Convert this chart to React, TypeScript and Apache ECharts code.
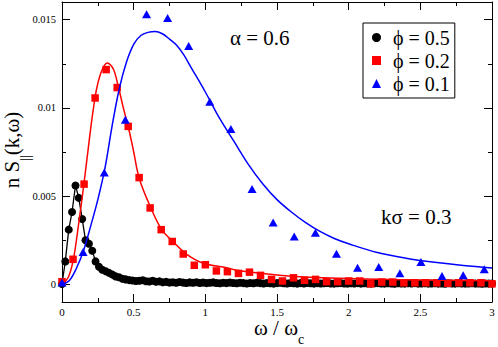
import React, { useEffect, useRef } from "react";
import * as echarts from "echarts";

const FONT = "Liberation Serif, DejaVu Serif, serif";

const yMajorTicks = [0, 0.005, 0.01, 0.015];
const yMinorTicks = [0.0025, 0.0075, 0.0125];
const seriesNames = ["ϕ = 0.5", "ϕ = 0.2", "ϕ = 0.1"];

const blackX = [
  0, 0.023, 0.047, 0.07, 0.094, 0.117, 0.141, 0.164, 0.188, 0.211,
  0.234, 0.258, 0.281, 0.305, 0.328, 0.352, 0.375, 0.398, 0.422, 0.445,
  0.469, 0.492, 0.516, 0.539, 0.563, 0.586, 0.609, 0.633, 0.656, 0.68,
  0.703, 0.727, 0.75, 0.773, 0.797, 0.82, 0.844, 0.867, 0.891, 0.914,
  0.938, 0.961, 0.984, 1.008, 1.031, 1.055, 1.078, 1.102, 1.125, 1.148,
  1.172, 1.195, 1.219, 1.242, 1.266, 1.289, 1.313, 1.336, 1.359, 1.383,
  1.406, 1.43, 1.453, 1.477, 1.5, 1.523, 1.547, 1.57, 1.594, 1.617,
  1.641, 1.664, 1.688, 1.711, 1.734, 1.758, 1.781, 1.805, 1.828, 1.852,
  1.875, 1.898, 1.922, 1.945, 1.969, 1.992, 2.016, 2.039, 2.063, 2.086,
  2.109, 2.133, 2.156, 2.18, 2.203, 2.227, 2.25, 2.273, 2.297, 2.32,
  2.344, 2.367, 2.391, 2.414, 2.438, 2.461, 2.484, 2.508, 2.531, 2.555,
  2.578, 2.602, 2.625, 2.648, 2.672, 2.695, 2.719, 2.742, 2.766, 2.789,
  2.813, 2.836, 2.859, 2.883, 2.906, 2.93, 2.953, 2.977, 3.0,
];
const blackY = [
  0.00002, 0.0013, 0.0031, 0.0041, 0.0056, 0.0049, 0.0037, 0.0025, 0.0023, 0.0019,
  0.0013, 0.001, 0.00083, 0.00074, 0.00065, 0.00055, 0.00045, 0.0004, 0.00032, 0.00028,
  0.00024, 0.00022, 0.00019, 0.0002, 0.00023, 0.00018, 0.00016, 0.0002, 0.00015, 0.00017,
  0.00012, 0.00014, 0.0001, 0.00012, 0.00009, 0.00013, 0.0001, 0.00008, 0.00011, 0.00009,
  0.00012, 0.00008, 0.0001, 0.00007, 0.00009, 0.00011, 0.00008, 0.00006, 0.00009, 0.00007,
  0.0001, 0.00008, 0.00006, 0.00009, 0.00007, 0.00005, 0.00008, 0.00006, 0.00009, 0.00007,
  0.00005, 0.00008, 0.00006, 0.00004, 0.00007, 0.00009, 0.00006, 0.00005, 0.00008, 0.00006,
  0.00004, 0.00007, 0.00005, 0.00008, 0.00006, 0.00004, 0.00007, 0.00005, 0.00006, 0.00008,
  0.00005, 0.00004, 0.00006, 0.00007, 0.00005, 0.00004, 0.00006, 0.00005, 0.00007, 0.00004,
  0.00006, 0.00005, 0.00004, 0.00006, 0.00007, 0.00005, 0.00004, 0.00006, 0.00005, 0.00003,
  0.00006, 0.00005, 0.00004, 0.00006, 0.00005, 0.00007, 0.00004, 0.00005, 0.00006, 0.00004,
  0.00005, 0.00006, 0.00004, 0.00005, 0.00003, 0.00006, 0.00005, 0.00004, 0.00006, 0.00005,
  0.00004, 0.00005, 0.00006, 0.00004, 0.00005, 0.00003, 0.00005, 0.00004, 0.00005,
];

const redX = [
  0, 0.077, 0.154, 0.231, 0.308, 0.385, 0.462, 0.538, 0.615, 0.692,
  0.769, 0.846, 0.923, 1.0, 1.077, 1.154, 1.231, 1.308, 1.385, 1.462,
  1.538, 1.615, 1.692, 1.769, 1.846, 1.923, 2.0, 2.077, 2.154, 2.231,
  2.308, 2.385, 2.462, 2.538, 2.615, 2.692, 2.769, 2.846, 2.923, 3.0,
];
const redY = [
  0.00015, 0.00142, 0.00568, 0.01056, 0.01217, 0.01115, 0.00895, 0.00605, 0.00433, 0.0031,
  0.00243, 0.00172, 0.00108, 0.00111, 0.00076, 0.00072, 0.00062, 0.00069, 0.00051, 0.00028,
  0.00019, 0.00037, 0.00023, 0.00028, 0.00015, 0.00015, 0.00019, 0.00019, 0.00003, 0.00013,
  0.00013, 0.00009, 0.00009, 0.00009, 0.00009, 0.00006, 0.00009, 0.00009, 0.00009, 0.00003,
];

const blueX = [
  0, 0.147, 0.295, 0.442, 0.59, 0.737, 0.884, 1.031, 1.178, 1.326,
  1.473, 1.62, 1.768, 1.915, 2.062, 2.21, 2.357, 2.504, 2.651, 2.799, 2.946,
];
const blueY = [
  0.0001, 0.00183, 0.00634, 0.00933, 0.0153, 0.0151, 0.0135, 0.01035, 0.0088, 0.0054,
  0.0035, 0.00271, 0.00293, 0.00174, 0.00094, 0.00098, 0.00063, 0.00127, 0.00047, 0.00051, 0.00085,
];

const redFitX = [
  0, 0.044, 0.079, 0.114, 0.156, 0.195, 0.218, 0.242, 0.277, 0.316,
  0.358, 0.393, 0.428, 0.463, 0.498, 0.539, 0.619, 0.696, 0.777, 0.87,
  0.986, 1.149, 1.219, 1.452, 1.684, 1.94, 2.3, 2.65, 3.0,
];
const redFitY = [
  0, 0.0004, 0.0014, 0.0033, 0.0059, 0.0085, 0.0099, 0.0111, 0.0121, 0.01255,
  0.0122, 0.0112, 0.01, 0.0089, 0.0076, 0.006, 0.00435, 0.0031, 0.0024, 0.0017,
  0.0012, 0.00094, 0.0008, 0.00057, 0.00041, 0.00034, 0.00027, 0.00023, 0.0002,
];

const blueFitX = [
  0, 0.05, 0.1, 0.15, 0.2, 0.25, 0.3, 0.35, 0.4, 0.45,
  0.5, 0.55, 0.6, 0.65, 0.7, 0.75, 0.8, 0.85, 0.9, 1.0,
  1.1, 1.2, 1.3, 1.4, 1.5, 1.6, 1.7, 1.8, 1.9, 2.0,
  2.2, 2.4, 2.6, 2.8, 3.0,
];
const blueFitY = [
  0, 0.0002, 0.0009, 0.0019, 0.0033, 0.0048, 0.0066, 0.009, 0.0111, 0.0126,
  0.0136, 0.0141, 0.01428, 0.01433, 0.0142, 0.0139, 0.01355, 0.013, 0.0123, 0.0109,
  0.0094, 0.0081, 0.0068, 0.0057, 0.0048, 0.0041, 0.0035, 0.003, 0.0026, 0.0023,
  0.0018, 0.00148, 0.00125, 0.00107, 0.00093,
];

const pairs = (xs: number[], ys: number[]) => xs.map((x, i) => [x, ys[i]]);

const axisLine = { show: true, onZero: false, lineStyle: { color: "#000", width: 1 } };

function makeX(position: "bottom" | "top", labels: boolean) {
  return {
    type: "value",
    min: 0,
    max: 3,
    interval: 0.5,
    position,
    axisLine,
    axisTick: { show: true, inside: true, length: 8, lineStyle: { color: "#000", width: 1 } },
    minorTick: { show: true, splitNumber: 2, length: 4, lineStyle: { color: "#000", width: 1 } },
    axisLabel: labels
      ? { show: true, color: "#000", fontFamily: FONT, fontSize: 11, margin: 4 }
      : { show: false },
    splitLine: { show: false },
    minorSplitLine: { show: false },
  };
}

function makeY(position: "left" | "right", values: number[], len: number, labels: boolean) {
  return {
    type: "value",
    min: -0.001,
    max: 0.016,
    position,
    axisLine: { ...axisLine, show: len === 8 },
    axisTick: {
      show: true,
      inside: true,
      length: len,
      customValues: values,
      lineStyle: { color: "#000", width: 1 },
    },
    axisLabel: labels
      ? { show: true, customValues: values, color: "#000", fontFamily: FONT, fontSize: 10.5, margin: 6 }
      : { show: false },
    splitLine: { show: false },
  };
}

export default function App() {
  const ref = useRef<HTMLDivElement>(null);
  useEffect(() => {
    if (!ref.current) return;
    const chart = echarts.init(ref.current, null, { renderer: "svg" });
    const option: any = {
      animation: false,
      backgroundColor: "#fff",
      grid: { left: 62, right: 6, top: 2, bottom: 45 },
      xAxis: [makeX("bottom", true), makeX("top", false)],
      yAxis: [
        makeY("left", yMajorTicks, 8, true),
        makeY("left", yMinorTicks, 4, false),
        makeY("right", yMajorTicks, 8, false),
        makeY("right", yMinorTicks, 4, false),
      ],
      legend: {
        orient: "vertical",
        left: 363,
        top: 23,
        padding: [4, 5, 4, 9],
        itemWidth: 9,
        itemHeight: 9,
        itemGap: 2,
        selectedMode: false,
        borderColor: "#000",
        borderWidth: 1,
        backgroundColor: "#fff",
        textStyle: {
          fontFamily: FONT,
          fontSize: 20,
          color: "#000",
          lineHeight: 21,
          padding: [0, 0, 0, 7],
        },
        data: [
          { name: seriesNames[0], icon: "circle" },
          { name: seriesNames[1], icon: "rect" },
          { name: seriesNames[2], icon: "triangle" },
        ],
      },
      graphic: [
        {
          type: "text",
          x: 230,
          y: 38,
          style: { text: "α = 0.6", fontSize: 21, fontFamily: FONT, fill: "#000", align: "left", verticalAlign: "middle" },
        },
        {
          type: "text",
          x: 381,
          y: 217,
          style: { text: "kσ = 0.3", fontSize: 21, fontFamily: FONT, fill: "#000", align: "left", verticalAlign: "middle" },
        },
        {
          type: "text",
          x: 12,
          y: 150,
          rotation: Math.PI / 2,
          style: {
            text: "{a|n S}{b|||}{a|(k,ω)}",
            align: "center",
            verticalAlign: "middle",
            rich: {
              a: { fontSize: 21, fontFamily: FONT, fill: "#000" },
              b: { fontSize: 14, fontFamily: FONT, fill: "#000", padding: [26, 0, 0, 0] },
            },
          },
        },
        {
          type: "text",
          x: 298,
          y: 328,
          style: { text: "ω / ω", fontSize: 21, fontFamily: FONT, fill: "#000", align: "right", verticalAlign: "middle" },
        },
        {
          type: "text",
          x: 298,
          y: 339,
          style: { text: "c", fontSize: 14, fontFamily: FONT, fill: "#000", align: "left", verticalAlign: "middle" },
        },
      ],
      series: [
        {
          name: seriesNames[0],
          type: "line",
          data: pairs(blackX, blackY),
          symbol: "circle",
          symbolSize: 8,
          showAllSymbol: true,
          clip: false,
          lineStyle: { color: "#000", width: 1.3 },
          itemStyle: { color: "#000" },
          z: 2,
        },
        {
          name: "redFit",
          type: "line",
          data: pairs(redFitX, redFitY),
          showSymbol: false,
          smooth: 0.35,
          lineStyle: { color: "#ff0000", width: 1.5 },
          itemStyle: { color: "#ff0000" },
          z: 3,
        },
        {
          name: seriesNames[1],
          type: "scatter",
          data: pairs(redX, redY),
          symbol: "rect",
          symbolSize: 7.5,
          clip: false,
          itemStyle: { color: "#ff0000", opacity: 1 },
          z: 4,
        },
        {
          name: "blueFit",
          type: "line",
          data: pairs(blueFitX, blueFitY),
          showSymbol: false,
          smooth: 0.35,
          lineStyle: { color: "#0000ff", width: 1.5 },
          itemStyle: { color: "#0000ff" },
          z: 5,
        },
        {
          name: seriesNames[2],
          type: "scatter",
          data: pairs(blueX, blueY),
          symbol: "triangle",
          symbolSize: [9, 8],
          clip: false,
          itemStyle: { color: "#0000ff", opacity: 1 },
          z: 6,
        },
      ],
    };
    chart.setOption(option);
    return () => chart.dispose();
  }, []);
  return (
    <div
      ref={ref}
      style={{ position: "fixed", left: 0, top: 0, width: 498, height: 347, background: "#fff" }}
    />
  );
}
